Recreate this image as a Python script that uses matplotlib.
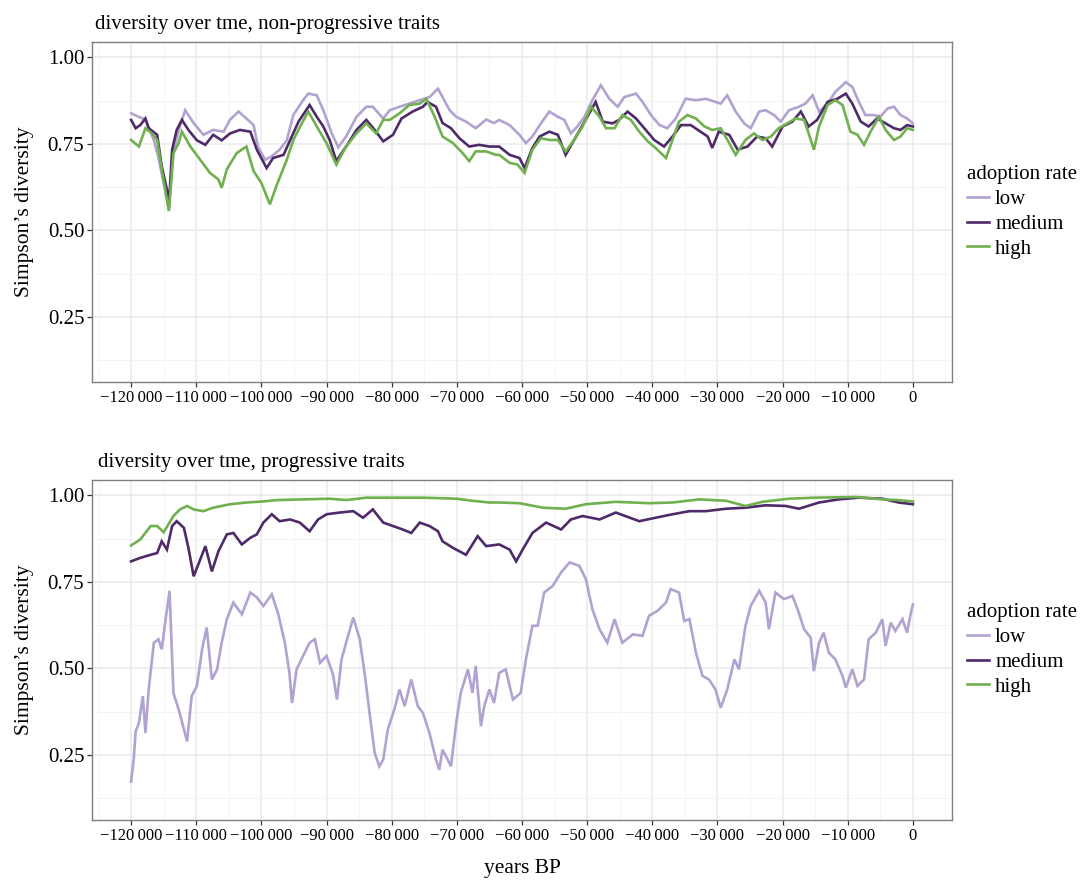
import matplotlib
matplotlib.use("Agg")
import matplotlib.pyplot as plt
import numpy as np
from matplotlib.ticker import MultipleLocator, FuncFormatter

plt.rcParams["font.family"] = ["Liberation Serif", "DejaVu Serif"]

LEVELS = ["low", "medium", "high"]
COLORS = {"low": "#b2a2d1", "medium": "#4e2b68", "high": "#70b04f"}

# (thousand years BP, Simpson's diversity)
top_low = [
    (-120.0, 0.838), (-119.1, 0.83), (-117.8, 0.82), (-116.5, 0.76), (-115.8, 0.71),
    (-114.5, 0.59), (-114.2, 0.56), (-113.5, 0.73), (-112.5, 0.80), (-111.7, 0.847),
    (-110.4, 0.81), (-108.9, 0.776), (-107.4, 0.79), (-105.8, 0.785), (-104.8, 0.82),
    (-103.5, 0.843), (-102.3, 0.823), (-101.2, 0.804), (-100.5, 0.74), (-99.4, 0.704),
    (-98.4, 0.714), (-97.2, 0.733), (-96.1, 0.76), (-95.1, 0.833), (-93.6, 0.876),
    (-92.8, 0.895), (-91.5, 0.89), (-90.5, 0.847), (-89.2, 0.78), (-88.2, 0.74),
    (-87.0, 0.771), (-85.4, 0.828), (-83.9, 0.857), (-82.9, 0.857), (-81.3, 0.823),
    (-80.3, 0.847), (-78.8, 0.857), (-77.3, 0.866), (-75.7, 0.876), (-74.2, 0.885),
    (-72.9, 0.909), (-72.2, 0.885), (-71.1, 0.847), (-70.1, 0.828), (-68.6, 0.814),
    (-67.1, 0.795), (-65.5, 0.82), (-64.3, 0.81),
    (-63.5, 0.819), (-61.9, 0.804), (-60.4, 0.776), (-59.4, 0.752), (-58.4, 0.771),
    (-57.1, 0.809), (-55.8, 0.843), (-54.5, 0.828), (-53.5, 0.819), (-52.5, 0.78),
    (-51.5, 0.80), (-50.4, 0.828), (-49.2, 0.876), (-47.9, 0.919), (-46.6, 0.88),
    (-45.3, 0.857), (-44.3, 0.885), (-42.5, 0.895), (-41.5, 0.871), (-40.2, 0.833),
    (-38.9, 0.804), (-37.7, 0.795), (-36.4, 0.823), (-34.9, 0.88), (-33.3, 0.876),
    (-31.8, 0.88), (-30.3, 0.871), (-29.5, 0.866), (-28.5, 0.89), (-27.2, 0.843),
    (-25.9, 0.809), (-24.9, 0.795), (-23.6, 0.843), (-22.6, 0.847), (-21.3, 0.833),
    (-20.3, 0.814), (-19.0, 0.847), (-17.5, 0.857), (-16.5, 0.866), (-15.4, 0.89),
    (-14.4, 0.843), (-13.1, 0.866), (-11.9, 0.90), (-10.3, 0.928), (-9.3, 0.914),
    (-8.3, 0.871), (-7.3, 0.833), (-6.0, 0.833), (-5.0, 0.828), (-3.9, 0.852),
    (-2.9, 0.857), (-1.9, 0.833), (-0.9, 0.823), (0.0, 0.809),
]
top_medium = [
    (-120.0, 0.819), (-119.3, 0.795), (-118.6, 0.804), (-117.8, 0.823), (-117.3, 0.795),
    (-116.0, 0.776), (-115.3, 0.685), (-114.5, 0.618), (-114.2, 0.57), (-113.7, 0.733),
    (-113.0, 0.79), (-112.2, 0.819), (-111.2, 0.79), (-109.9, 0.76), (-108.6, 0.747),
    (-107.4, 0.776), (-106.1, 0.76), (-104.8, 0.78), (-103.3, 0.79), (-101.7, 0.785),
    (-100.7, 0.733), (-99.2, 0.68), (-98.2, 0.709), (-96.6, 0.718), (-95.6, 0.76),
    (-94.3, 0.814), (-92.6, 0.862), (-91.5, 0.828), (-90.5, 0.80), (-89.5, 0.76),
    (-88.5, 0.70), (-87.0, 0.742), (-85.4, 0.79), (-83.9, 0.819), (-82.6, 0.79),
    (-81.3, 0.757), (-79.8, 0.776), (-78.5, 0.823), (-76.8, 0.843), (-75.2, 0.857),
    (-74.5, 0.871), (-73.2, 0.857), (-72.2, 0.81), (-70.9, 0.795), (-69.6, 0.766),
    (-68.1, 0.742), (-66.6, 0.747), (-65.0, 0.742),
    (-63.5, 0.742), (-61.9, 0.718), (-60.4, 0.709), (-59.6, 0.68), (-58.4, 0.738),
    (-57.3, 0.771), (-55.8, 0.785), (-54.5, 0.776), (-53.3, 0.718), (-52.0, 0.761),
    (-50.7, 0.804), (-49.4, 0.847), (-48.7, 0.871), (-47.6, 0.814), (-46.1, 0.809),
    (-45.1, 0.819), (-43.8, 0.843), (-42.5, 0.823), (-41.0, 0.79), (-39.7, 0.761),
    (-38.2, 0.742), (-36.9, 0.771), (-35.6, 0.804), (-34.1, 0.804), (-32.6, 0.785),
    (-31.5, 0.771), (-30.8, 0.738), (-29.8, 0.785), (-28.2, 0.776), (-26.9, 0.733),
    (-25.4, 0.742), (-23.9, 0.771), (-22.6, 0.766), (-21.6, 0.742), (-20.0, 0.80),
    (-18.5, 0.814), (-17.2, 0.843), (-16.0, 0.80), (-14.7, 0.819), (-13.1, 0.871),
    (-11.6, 0.88), (-10.3, 0.895), (-9.3, 0.866), (-8.0, 0.814), (-6.8, 0.80),
    (-5.5, 0.823), (-4.2, 0.809), (-2.9, 0.795), (-1.9, 0.79), (-0.9, 0.804),
    (0.0, 0.80),
]
top_high = [
    (-120.0, 0.761), (-118.8, 0.742), (-117.8, 0.795), (-116.8, 0.78), (-116.0, 0.761),
    (-115.3, 0.676), (-114.2, 0.556), (-113.5, 0.723), (-112.7, 0.752), (-112.2, 0.785),
    (-110.9, 0.742), (-109.4, 0.704), (-107.9, 0.666), (-106.6, 0.647), (-106.1, 0.623),
    (-105.3, 0.676), (-103.8, 0.723), (-102.3, 0.742), (-101.2, 0.671), (-100.0, 0.637),
    (-98.7, 0.575), (-97.7, 0.628), (-96.1, 0.704), (-95.1, 0.761), (-93.8, 0.809),
    (-92.8, 0.843), (-91.5, 0.80), (-90.0, 0.752), (-88.5, 0.69), (-87.0, 0.742),
    (-85.4, 0.78), (-83.9, 0.809), (-82.4, 0.78), (-81.3, 0.819), (-80.3, 0.819),
    (-78.8, 0.838), (-77.3, 0.862), (-75.7, 0.866), (-74.7, 0.88), (-73.4, 0.828),
    (-72.2, 0.771), (-70.6, 0.752), (-69.1, 0.723), (-68.1, 0.70), (-67.1, 0.728),
    (-65.5, 0.728), (-64.0, 0.718),
    (-63.5, 0.718), (-61.9, 0.695), (-60.7, 0.69), (-59.6, 0.666), (-58.4, 0.733),
    (-57.1, 0.766), (-55.8, 0.761), (-54.5, 0.761), (-53.3, 0.728), (-52.0, 0.761),
    (-50.7, 0.80), (-49.4, 0.857), (-48.1, 0.828), (-47.1, 0.795), (-45.8, 0.795),
    (-44.6, 0.833), (-43.3, 0.819), (-42.0, 0.785), (-40.7, 0.757), (-39.5, 0.738),
    (-37.9, 0.709), (-36.9, 0.761), (-35.9, 0.814), (-34.6, 0.833), (-33.3, 0.823),
    (-32.0, 0.80), (-30.8, 0.79), (-29.5, 0.795), (-28.2, 0.752), (-27.2, 0.718),
    (-25.7, 0.761), (-24.4, 0.78), (-23.1, 0.761), (-21.8, 0.771), (-20.6, 0.795),
    (-19.3, 0.809), (-18.0, 0.823), (-16.7, 0.819), (-16.0, 0.78), (-15.2, 0.733),
    (-14.4, 0.80), (-13.1, 0.862), (-11.9, 0.876), (-10.8, 0.862), (-9.6, 0.785),
    (-8.5, 0.776), (-7.5, 0.747), (-6.5, 0.785), (-5.2, 0.828), (-4.2, 0.79),
    (-2.9, 0.761), (-1.9, 0.771), (-0.9, 0.795), (0.0, 0.79),
]

bottom_low = [
    (-120.0, 0.173), (-119.6, 0.236), (-119.3, 0.318), (-118.8, 0.342), (-118.2, 0.42),
    (-117.8, 0.313), (-117.3, 0.439), (-116.5, 0.574), (-115.8, 0.584), (-115.3, 0.555),
    (-114.7, 0.642), (-114.1, 0.724), (-113.5, 0.429), (-112.7, 0.381), (-111.4, 0.289),
    (-110.7, 0.42), (-109.9, 0.449), (-109.1, 0.555), (-108.4, 0.618), (-107.6, 0.468),
    (-106.8, 0.497), (-106.1, 0.574), (-105.3, 0.642), (-104.3, 0.69), (-103.0, 0.656),
    (-101.7, 0.719), (-100.7, 0.705), (-99.7, 0.68), (-98.4, 0.714), (-97.4, 0.656),
    (-96.4, 0.574), (-95.7, 0.487), (-95.3, 0.40), (-94.6, 0.497), (-93.6, 0.536),
    (-92.6, 0.574), (-91.8, 0.584), (-91.0, 0.516), (-90.0, 0.536), (-89.0, 0.482),
    (-88.4, 0.41), (-87.7, 0.526), (-87.0, 0.574), (-85.9, 0.647), (-84.9, 0.584),
    (-84.1, 0.478), (-83.4, 0.371), (-82.6, 0.255), (-81.9, 0.217), (-81.3, 0.236),
    (-80.6, 0.323), (-79.6, 0.381), (-78.8, 0.439), (-78.0, 0.391), (-77.0, 0.468),
    (-76.0, 0.391), (-75.2, 0.371), (-74.2, 0.313), (-73.2, 0.236), (-72.7, 0.207),
    (-72.2, 0.265), (-71.4, 0.236), (-70.9, 0.217), (-70.1, 0.342), (-69.4, 0.429),
    (-68.3, 0.497), (-67.6, 0.429), (-67.1, 0.507), (-66.3, 0.333), (-65.8, 0.391),
    (-65.0, 0.439), (-64.3, 0.40),
    (-63.5, 0.487), (-62.5, 0.497), (-61.4, 0.41), (-60.2, 0.429), (-59.4, 0.526),
    (-58.4, 0.623), (-57.6, 0.623), (-56.6, 0.719), (-55.3, 0.738), (-54.0, 0.777),
    (-52.7, 0.806), (-51.2, 0.796), (-50.2, 0.758), (-49.2, 0.671), (-48.1, 0.613),
    (-46.9, 0.574), (-45.8, 0.642), (-44.6, 0.574), (-43.0, 0.598), (-41.5, 0.594),
    (-40.5, 0.652), (-39.2, 0.666), (-37.9, 0.69), (-37.2, 0.729), (-35.9, 0.719),
    (-35.1, 0.637), (-34.3, 0.642), (-33.3, 0.545), (-32.3, 0.478), (-31.3, 0.468),
    (-30.3, 0.439), (-29.5, 0.386), (-28.5, 0.439), (-27.4, 0.526), (-26.7, 0.497),
    (-25.7, 0.623), (-24.9, 0.68), (-23.6, 0.724), (-22.6, 0.69), (-22.1, 0.613),
    (-21.1, 0.719), (-19.8, 0.70), (-18.5, 0.709), (-17.7, 0.671), (-16.7, 0.613),
    (-15.7, 0.589), (-15.2, 0.492), (-14.4, 0.574), (-13.7, 0.603), (-12.9, 0.545),
    (-11.9, 0.526), (-10.8, 0.478), (-10.3, 0.444), (-9.3, 0.497), (-8.5, 0.449),
    (-7.5, 0.468), (-6.8, 0.584), (-5.7, 0.603), (-4.7, 0.642), (-4.2, 0.565),
    (-3.4, 0.632), (-2.7, 0.608), (-1.6, 0.642), (-0.9, 0.603), (-0.4, 0.652),
    (0.0, 0.685),
]
bottom_medium = [
    (-120.0, 0.809), (-118.6, 0.819), (-117.0, 0.828), (-116.0, 0.833), (-115.3, 0.867),
    (-114.5, 0.843), (-113.7, 0.911), (-113.0, 0.925), (-111.9, 0.906), (-111.2, 0.848),
    (-110.4, 0.766), (-109.6, 0.804), (-108.6, 0.853), (-107.6, 0.78), (-106.6, 0.838),
    (-105.3, 0.887), (-104.3, 0.891), (-103.0, 0.858), (-101.7, 0.877), (-100.7, 0.887),
    (-99.7, 0.921), (-98.4, 0.945), (-97.2, 0.925), (-95.6, 0.93), (-94.1, 0.921),
    (-92.6, 0.896), (-91.3, 0.93), (-90.0, 0.945), (-88.0, 0.95), (-85.9, 0.954),
    (-84.4, 0.935), (-82.9, 0.959), (-81.3, 0.921), (-79.8, 0.911), (-78.3, 0.901),
    (-77.0, 0.891), (-75.7, 0.921), (-74.2, 0.911), (-72.9, 0.896), (-72.2, 0.867),
    (-70.6, 0.848), (-68.6, 0.828), (-66.8, 0.882), (-65.5, 0.853),
    (-63.5, 0.858), (-61.9, 0.843), (-60.9, 0.809), (-59.9, 0.843), (-58.4, 0.891),
    (-56.3, 0.921), (-54.0, 0.901), (-52.5, 0.93), (-50.7, 0.94), (-48.1, 0.93),
    (-45.6, 0.95), (-42.0, 0.925), (-39.5, 0.935), (-36.9, 0.945), (-34.3, 0.954),
    (-31.8, 0.954), (-28.7, 0.961), (-25.7, 0.964), (-22.6, 0.971), (-19.5, 0.969),
    (-17.5, 0.961), (-14.4, 0.979), (-11.4, 0.988), (-8.3, 0.993), (-4.7, 0.99),
    (-2.2, 0.979), (0.0, 0.974),
]
bottom_high = [
    (-120.0, 0.855), (-118.6, 0.872), (-117.0, 0.911), (-116.0, 0.911), (-115.0, 0.893),
    (-113.5, 0.94), (-112.5, 0.959), (-111.4, 0.969), (-110.4, 0.959), (-108.9, 0.954),
    (-107.4, 0.964), (-104.8, 0.974), (-102.3, 0.979), (-99.7, 0.982), (-97.7, 0.986),
    (-93.6, 0.988), (-89.5, 0.99), (-87.0, 0.986), (-83.9, 0.993), (-80.3, 0.993),
    (-75.2, 0.993), (-70.1, 0.99), (-67.6, 0.984), (-65.0, 0.979),
    (-63.5, 0.979), (-60.4, 0.977), (-56.8, 0.964), (-53.3, 0.961), (-50.2, 0.974),
    (-45.6, 0.981), (-40.5, 0.977), (-36.9, 0.979), (-32.8, 0.988), (-28.7, 0.984),
    (-25.7, 0.969), (-23.1, 0.981), (-19.0, 0.99), (-14.9, 0.993), (-8.8, 0.995),
    (-4.7, 0.988), (-2.2, 0.986), (0.0, 0.982),
]

PANELS = [
    ("diversity over tme, non-progressive traits",
     {"low": top_low, "medium": top_medium, "high": top_high}),
    ("diversity over tme, progressive traits",
     {"low": bottom_low, "medium": bottom_medium, "high": bottom_high}),
]


def fmt_years(v, pos):
    v = int(round(v))
    if v == 0:
        return "0"
    s = f"{abs(v):,}".replace(",", "\u2009")
    return ("\u2212" if v < 0 else "") + s


W, H = 1080, 881
fig = plt.figure(figsize=(W / 100, H / 100), dpi=100)
axes_px = [(92, 42, 952, 382), (92, 480, 952, 820)]

for i, ((title, series), (x0, y0, x1, y1)) in enumerate(zip(PANELS, axes_px)):
    ax = fig.add_axes([x0 / W, 1 - y1 / H, (x1 - x0) / W, (y1 - y0) / H])
    for lvl in LEVELS:
        pts = np.array(series[lvl])
        ax.plot(pts[:, 0] * 1000, pts[:, 1], color=COLORS[lvl], lw=1.9,
                label=lvl, solid_joinstyle="miter")

    ax.set_xlim(-126000, 6000)
    ax.set_ylim(0.062, 1.044)
    ax.xaxis.set_major_locator(MultipleLocator(10000))
    ax.xaxis.set_minor_locator(MultipleLocator(5000))
    ax.yaxis.set_major_locator(MultipleLocator(0.25))
    ax.yaxis.set_minor_locator(MultipleLocator(0.125))
    ax.xaxis.set_major_formatter(FuncFormatter(fmt_years))
    ax.yaxis.set_major_formatter(FuncFormatter(lambda v, p: f"{v:.2f}"))
    ax.set_xticks([t for t in range(-120000, 1, 10000)])

    ax.grid(which="major", color="#ebebeb", lw=1.1)
    ax.grid(which="minor", color="#f3f3f3", lw=0.6)
    ax.set_axisbelow(True)
    for sp in ax.spines.values():
        sp.set_color("#7f7f7f")
        sp.set_linewidth(1.0)
    ax.tick_params(which="major", length=3.5, width=0.9, color="#333333")
    ax.tick_params(which="minor", length=0)
    ax.tick_params(axis="y", labelsize=15, pad=2, labelcolor="black")
    ax.tick_params(axis="x", labelsize=12, pad=2, labelcolor="black")

    ax.set_title(title, loc="left", fontsize=15, pad=9, x=0.003 if i == 0 else 0.007)
    ax.set_ylabel("Simpson\u2019s diversity", fontsize=15.5)
    ax.yaxis.set_label_coords(-0.068, 0.5)
    if i == 1:
        ax.set_xlabel("years BP", fontsize=15.5, labelpad=11)

    ax.legend(title="adoption rate", loc="center left",
              bbox_to_anchor=(1 + 15 / 860, 0.5), frameon=False,
              fontsize=15, title_fontsize=15, handlelength=1.05,
              handletextpad=0.3, labelspacing=0.25, borderpad=0,
              borderaxespad=0, alignment="left")

fig.savefig("out.png", dpi=100)
